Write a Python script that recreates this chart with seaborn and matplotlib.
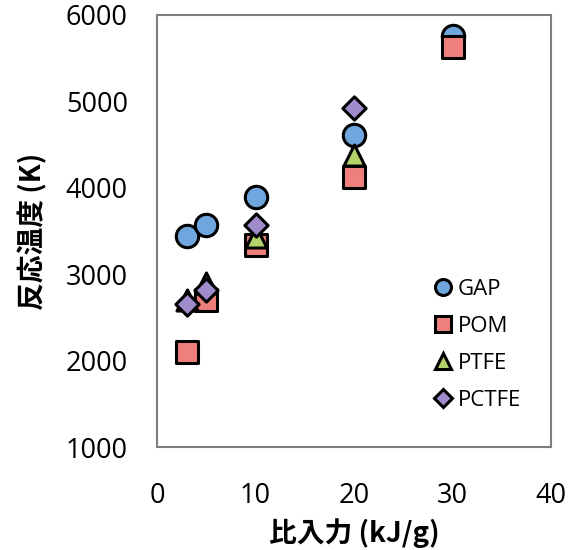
import matplotlib
matplotlib.use("Agg")
import matplotlib.pyplot as plt
import seaborn as sns
import pandas as pd
from matplotlib.lines import Line2D

series = ["GAP", "POM", "PTFE", "PCTFE"]
gap_x = [3, 5, 10, 20, 30]
gap_y = [3440, 3570, 3895, 4610, 5760]
pom_x = [3, 5, 10, 20, 30]
pom_y = [2105, 2700, 3335, 4125, 5630]
ptfe_x = [3, 5, 10, 20]
ptfe_y = [2700, 2900, 3430, 4380]
pctfe_x = [3, 5, 10, 20]
pctfe_y = [2655, 2820, 3570, 4925]
x_ticks = [0, 10, 20, 30, 40]
y_ticks = [1000, 2000, 3000, 4000, 5000, 6000]

colors = {"GAP": "#6fa6de", "POM": "#ef7f7a", "PTFE": "#b3d36a", "PCTFE": "#a08ccb"}
markers = {"GAP": "o", "POM": "s", "PTFE": "^", "PCTFE": "D"}
sizes = {"GAP": 260, "POM": 260, "PTFE": 230, "PCTFE": 140}

frames = []
for name, xs, ys in [("GAP", gap_x, gap_y), ("POM", pom_x, pom_y),
                     ("PTFE", ptfe_x, ptfe_y), ("PCTFE", pctfe_x, pctfe_y)]:
    frames.append(pd.DataFrame({"x": xs, "y": ys, "series": name}))
df = pd.concat(frames, ignore_index=True)

sns.set_style("white")
plt.rcParams["font.family"] = ["Open Sans", "DejaVu Sans"]
plt.rcParams["text.color"] = "black"
plt.rcParams["axes.labelcolor"] = "black"

fig = plt.figure(figsize=(5.73, 5.5), dpi=100)
ax = fig.add_axes([0.274, 0.187, 0.688, 0.786])

for name in series:
    sub = df[df["series"] == name]
    sns.scatterplot(data=sub, x="x", y="y", ax=ax, marker=markers[name],
                    color=colors[name], s=sizes[name], edgecolor="black",
                    linewidth=2.2, zorder=3, legend=False)

ax.set_xlim(0, 40)
ax.set_ylim(1000, 6000)
ax.set_xticks(x_ticks)
ax.set_yticks(y_ticks)
ax.tick_params(axis="both", direction="in", length=9, width=1, color="#b0b0b0",
               labelsize=19.5, labelcolor="black")
ax.tick_params(axis="x", pad=25)
ax.tick_params(axis="y", pad=21)
for sp in ax.spines.values():
    sp.set_color("#7f7f7f")
    sp.set_linewidth(1.5)

cjk = ["Noto Sans CJK JP", "DejaVu Sans"]
ax.set_xlabel("比入力 (kJ/g)", family=cjk, fontsize=20, fontweight="bold", labelpad=6, color="black")
ax.set_ylabel("反応温度 (K)", family=cjk, fontsize=20, fontweight="bold", labelpad=13, color="black")

handles = [Line2D([], [], linestyle="none", marker=markers[n], markersize=11.5 if n != "PCTFE" else 9,
                  markerfacecolor=colors[n], markeredgecolor="black", markeredgewidth=2.2)
           for n in series]
leg = ax.legend(handles, series, loc="lower right", bbox_to_anchor=(0.975, 0.038),
                frameon=False, fontsize=16, handlelength=0.6, handletextpad=0.4,
                labelspacing=0.72)
for t in leg.get_texts():
    t.set_color("black")

fig.savefig("out.png", dpi=100)
